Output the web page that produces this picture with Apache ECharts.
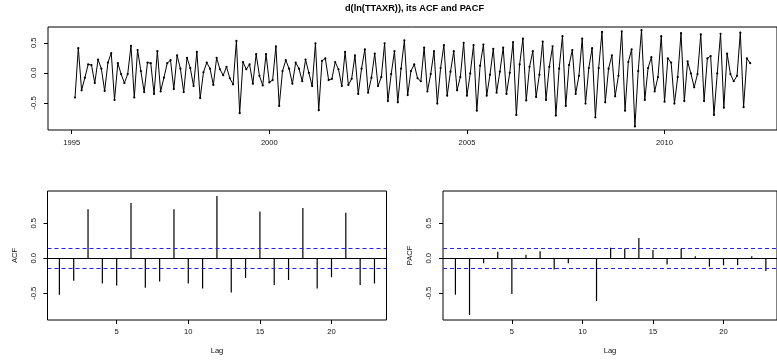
<!DOCTYPE html>
<html>
<head>
<meta charset="utf-8">
<script src="https://cdn.jsdelivr.net/npm/echarts@6/dist/echarts.min.js"></script>
<style>
  html, body { margin: 0; padding: 0; background: #fff; }
  #chart { width: 777px; height: 362px; }
</style>
</head>
<body>
<div id="chart"></div>
<script>
// Monthly log-differences of TTAXR, first observation February 1995
const startYear = 1995;
const startMonth = 2;
const dlnTtaxr = [
  -0.41, 0.41, -0.29, -0.08, 0.14, 0.13, -0.17, 0.22, 0.07, -0.30, 0.17, 0.33,
  -0.45, 0.16, -0.02, -0.17, -0.02, 0.45, -0.41, 0.38, 0.03, -0.32, 0.17, 0.16,
  -0.35, 0.36, -0.31, -0.08, 0.16, 0.21, -0.27, 0.29, 0.07, -0.32, 0.25, 0.08,
  -0.22, 0.35, -0.42, 0.01, 0.17, 0.07, -0.20, 0.25, 0.06, -0.04, 0.10, -0.09,
  -0.19, 0.53, -0.67, 0.18, 0.06, 0.14, -0.18, 0.31, -0.05, -0.21, 0.31, -0.16,
  -0.12, 0.44, -0.55, 0.03, 0.21, 0.07, -0.18, 0.17, 0.07, -0.14, 0.22, 0.00,
  -0.22, 0.49, -0.62, 0.20, 0.24, -0.12, -0.10, 0.18, 0.06, -0.22, 0.35, -0.20,
  -0.10, 0.29, -0.35, 0.07, 0.39, -0.33, -0.08, 0.32, -0.22, -0.07, 0.49, -0.47,
  -0.02, 0.36, -0.49, 0.07, 0.54, -0.37, 0.03, 0.14, -0.09, -0.14, 0.42, -0.31,
  -0.02, 0.36, -0.51, 0.08, 0.46, -0.38, 0.02, 0.36, -0.29, -0.07, 0.50, -0.38,
  -0.01, 0.46, -0.63, 0.12, 0.47, -0.38, -0.03, 0.40, -0.33, 0.02, 0.42, -0.35,
  0.00, 0.51, -0.70, 0.14, 0.57, -0.46, 0.10, 0.36, -0.40, -0.03, 0.52, -0.45,
  0.10, 0.44, -0.71, 0.07, 0.61, -0.55, 0.13, 0.38, -0.35, -0.05, 0.57, -0.51,
  0.08, 0.41, -0.74, 0.08, 0.68, -0.49, 0.07, 0.29, -0.39, -0.05, 0.69, -0.63,
  0.18, 0.39, -0.89, 0.03, 0.71, -0.45, 0.08, 0.26, -0.31, -0.07, 0.61, -0.48,
  0.24, 0.17, -0.51, -0.07, 0.66, -0.47, 0.19, -0.01, -0.24, -0.02, 0.64, -0.47,
  0.24, 0.28, -0.70, -0.01, 0.65, -0.58, 0.32, -0.02, -0.14, -0.05, 0.67, -0.57,
  0.24, 0.16
];
const yearTicks = [1995, 2000, 2005, 2010];
const levelTicks = [-0.5, 0, 0.5];

// Correlogram of the differenced series
const lags = [1, 2, 3, 4, 5, 6, 7, 8, 9, 10, 11, 12, 13, 14, 15, 16, 17, 18, 19, 20, 21, 22, 23];
const acfValues = [
  -0.52, -0.32, 0.70, -0.36, -0.39, 0.79, -0.42, -0.33, 0.70, -0.36, -0.43, 0.89,
  -0.49, -0.28, 0.67, -0.38, -0.31, 0.72, -0.43, -0.27, 0.65, -0.38, -0.36
];
const pacfValues = [
  -0.52, -0.81, -0.07, 0.095, -0.51, 0.05, 0.10, -0.16, -0.07, 0.005, -0.61, 0.15,
  0.14, 0.29, 0.12, -0.09, 0.14, 0.03, -0.12, -0.10, -0.10, 0.03, -0.18
];
const ciBound = 0.138;
const lagTicks = [5, 10, 15, 20];

const FONT = '"Liberation Sans", Arial, Helvetica, sans-serif';
const TEXT = '#111';

const fmtNum = v => (Math.abs(v) < 1e-9 ? '0.0' : v.toFixed(1));

const seriesPoints = dlnTtaxr.map((v, i) => [startYear + (startMonth - 1 + i) / 12, v]);

const hiddenLine = { show: false, onZero: false };

function valueYAxis(gridIndex, min, max, name) {
  return {
    type: 'value', gridIndex, min, max,
    name: name || '',
    nameLocation: 'middle', nameRotate: 90, nameGap: 29,
    nameTextStyle: { fontFamily: FONT, fontSize: 7.6, color: TEXT },
    axisLine: hiddenLine,
    splitLine: { show: false },
    axisTick: { show: true, length: 4, customValues: levelTicks, lineStyle: { color: '#000', width: 1 } },
    axisLabel: {
      show: true, customValues: levelTicks, rotate: 90, margin: 10,
      fontFamily: FONT, fontSize: 7.6, color: TEXT, formatter: fmtNum
    }
  };
}

function lagXAxis(gridIndex, min, max) {
  return {
    type: 'value', gridIndex, min, max,
    name: 'Lag', nameLocation: 'middle', nameGap: 27,
    nameTextStyle: { fontFamily: FONT, fontSize: 7.6, color: TEXT },
    axisLine: hiddenLine,
    splitLine: { show: false },
    axisTick: { show: true, length: 4, customValues: lagTicks, lineStyle: { color: '#000', width: 1 } },
    axisLabel: {
      show: true, customValues: lagTicks, margin: 8,
      fontFamily: FONT, fontSize: 7.6, color: TEXT, formatter: v => String(v)
    }
  };
}

function refLines() {
  return {
    silent: true, symbol: 'none', animation: false,
    label: { show: false },
    emphasis: { disabled: true },
    data: [
      { yAxis: 0, lineStyle: { color: '#000', type: 'solid', width: 1 } },
      { yAxis: ciBound, lineStyle: { color: '#1f1fff', type: [4, 3], width: 1 } },
      { yAxis: -ciBound, lineStyle: { color: '#1f1fff', type: [4, 3], width: 1 } }
    ]
  };
}

const frame = { show: true, borderColor: '#000', borderWidth: 1, backgroundColor: 'transparent', containLabel: false };

const chart = echarts.init(document.getElementById('chart'), null, { renderer: 'canvas' });
chart.setOption({
  animation: false,
  backgroundColor: '#fff',
  graphic: [{
    type: 'text', x: 414.5, y: 8.5,
    style: {
      text: 'd(ln(TTAXR)), its ACF and PACF',
      fontFamily: FONT, fontSize: 9.2, fontWeight: 'bold', fill: '#000',
      align: 'center', verticalAlign: 'middle'
    }
  }],
  grid: [
    Object.assign({ left: 48, top: 27, width: 734, height: 103 }, frame),
    Object.assign({ left: 47.5, top: 191, width: 339, height: 129 }, frame),
    Object.assign({ left: 443, top: 191, width: 339, height: 129 }, frame)
  ],
  xAxis: [
    {
      type: 'value', gridIndex: 0, min: 1994.40, max: 2012.845,
      axisLine: hiddenLine, splitLine: { show: false },
      axisTick: { show: true, length: 4, customValues: yearTicks, lineStyle: { color: '#000', width: 1 } },
      axisLabel: {
        show: true, customValues: yearTicks, margin: 9,
        fontFamily: FONT, fontSize: 7.6, color: TEXT, formatter: v => String(v)
      }
    },
    lagXAxis(1, 0.17, 23.84),
    lagXAxis(2, 0.12, 23.79)
  ],
  yAxis: [
    valueYAxis(0, -0.950, 0.762, ''),
    valueYAxis(1, -0.881, 0.961, 'ACF'),
    valueYAxis(2, -0.881, 0.961, 'PACF')
  ],
  series: [
    {
      type: 'line', xAxisIndex: 0, yAxisIndex: 0,
      data: seriesPoints,
      symbol: 'circle', symbolSize: 2.2, showSymbol: true,
      lineStyle: { color: '#000', width: 1 },
      itemStyle: { color: '#000' },
      emphasis: { disabled: true }
    },
    {
      type: 'bar', xAxisIndex: 1, yAxisIndex: 1,
      data: lags.map((l, i) => [l, acfValues[i]]),
      barWidth: 1.2,
      itemStyle: { color: '#000' },
      emphasis: { disabled: true },
      markLine: refLines()
    },
    {
      type: 'bar', xAxisIndex: 2, yAxisIndex: 2,
      data: lags.map((l, i) => [l, pacfValues[i]]),
      barWidth: 1.2,
      itemStyle: { color: '#000' },
      emphasis: { disabled: true },
      markLine: refLines()
    }
  ]
});
</script>
</body>
</html>
